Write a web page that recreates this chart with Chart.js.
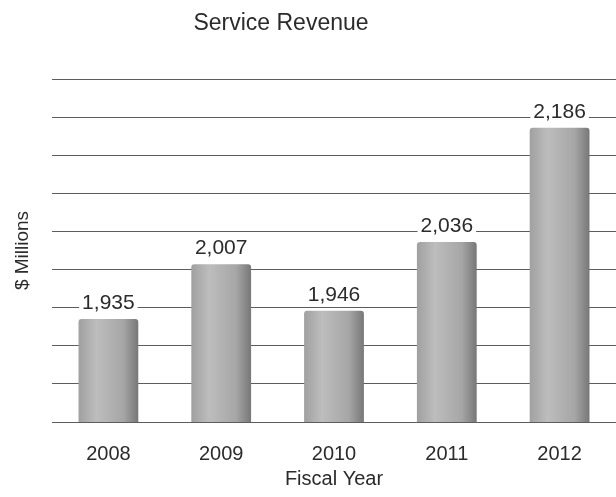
<!DOCTYPE html>
<html>
<head>
<meta charset="utf-8">
<title>Service Revenue</title>
<script src="https://cdn.jsdelivr.net/npm/chart.js@4.4.0/dist/chart.umd.min.js"></script>
<style>
  html, body { margin: 0; padding: 0; background: #fff; }
  #box { width: 616px; height: 497px; }
</style>
</head>
<body>
<div id="box"><canvas id="myChart"></canvas></div>
<script>
// CHART DATA
const years = ['2008', '2009', '2010', '2011', '2012'];
const revenue = [1935, 2007, 1946, 2036, 2186];

// VALUE AXIS (NO TICK LABELS, ONLY THE GRID LINES)
const yMin = 1800;
const yMax = 2250;
const yStep = 50;

const FONT = "'Liberation Sans', Arial, sans-serif";
const TEXT = '#2b2b2b';
const BAR_PCT = 0.53;

// GRAY SHADED BAR, LIGHT LEFT / DARK RIGHT EDGE
function barFill(c) {
    const chart = c.chart;
    const xs = chart.scales.x;
    if (!xs || !chart.chartArea) return '#aaaaaa';
    const cx = xs.getPixelForValue(c.dataIndex);
    const half = (xs.width / years.length) * BAR_PCT / 2;
    const g = chart.ctx.createLinearGradient(cx - half, 0, cx + half, 0);
    g.addColorStop(0, '#a0a0a0');
    g.addColorStop(0.3, '#bdbdbd');
    g.addColorStop(0.75, '#a6a6a6');
    g.addColorStop(1, '#777777');
    return g;
}

// DARKER FOOT AT THE BOTTOM OF EACH BAR
const barShadow = {
    id: 'barShadow',
    afterDatasetsDraw(chart) {
        const ctx = chart.ctx;
        chart.getDatasetMeta(0).data.forEach(bar => {
            const g = ctx.createLinearGradient(0, bar.base - 16, 0, bar.base);
            g.addColorStop(0, 'rgba(60,60,60,0)');
            g.addColorStop(1, 'rgba(60,60,60,0.35)');
            ctx.save();
            ctx.fillStyle = g;
            ctx.fillRect(bar.x - bar.width / 2, bar.base - 16, bar.width, 16);
            ctx.restore();
        });
    }
};

// VALUE LABELS ABOVE BARS, WHITE BOX BREAKS THE GRID LINE
const valueLabels = {
    id: 'valueLabels',
    afterDatasetsDraw(chart) {
        const ctx = chart.ctx;
        ctx.save();
        ctx.font = '21px ' + FONT;
        ctx.textAlign = 'center';
        ctx.textBaseline = 'middle';
        chart.getDatasetMeta(0).data.forEach((bar, i) => {
            const txt = revenue[i].toLocaleString('en-US');
            const w = ctx.measureText(txt).width;
            const y = bar.y - 16;
            ctx.fillStyle = '#ffffff';
            ctx.fillRect(bar.x - w / 2 - 3, y - 10, w + 6, 20);
            ctx.fillStyle = TEXT;
            ctx.fillText(txt, bar.x, y);
        });
        ctx.restore();
    }
};

// TITLE SITS LEFT OF CENTER IN THE ORIGINAL
const titleShift = {
    id: 'titleShift',
    afterLayout(chart) {
        const t = chart.titleBlock;
        if (t) { t.left = 0; t.right = 562; }
    }
};

const ctx = document.getElementById('myChart').getContext('2d');
const myChart = new Chart(ctx, {
    type: 'bar',
    data: {
        labels: years,
        datasets: [{
            label: 'Service Revenue',
            data: revenue,
            backgroundColor: barFill,
            borderWidth: 0,
            borderRadius: { topLeft: 3, topRight: 3 },
            borderSkipped: 'bottom',
            barPercentage: BAR_PCT,
            categoryPercentage: 1
        }]
    },
    options: {
        responsive: true,
        maintainAspectRatio: false,
        animation: false,
        layout: { padding: { left: 7, right: 0, top: 0, bottom: 0 } },
        plugins: {
            legend: { display: false },
            tooltip: { enabled: false },
            title: {
                display: true,
                text: 'Service Revenue',
                color: TEXT,
                font: { family: FONT, size: 23, weight: 'normal' },
                padding: { top: 10, bottom: 41.4 }
            }
        },
        scales: {
            x: {
                grid: { display: false },
                border: { display: false },
                ticks: { color: TEXT, font: { family: FONT, size: 20 }, padding: 12 },
                title: {
                    display: true,
                    text: 'Fiscal Year',
                    color: TEXT,
                    font: { family: FONT, size: 20 },
                    padding: { top: 1, bottom: 6 }
                },
                afterFit(scale) { scale.height = 75; }
            },
            y: {
                min: yMin,
                max: yMax,
                ticks: { display: false, stepSize: yStep },
                grid: { color: '#5c5c5c', lineWidth: 1, drawTicks: false },
                border: { display: false },
                title: {
                    display: true,
                    text: '$ Millions',
                    color: TEXT,
                    font: { family: FONT, size: 19 },
                    padding: { top: 4, bottom: 4 }
                },
                afterFit(scale) { scale.width = 45; }
            }
        }
    },
    plugins: [barShadow, valueLabels, titleShift]
});
</script>
</body>
</html>
